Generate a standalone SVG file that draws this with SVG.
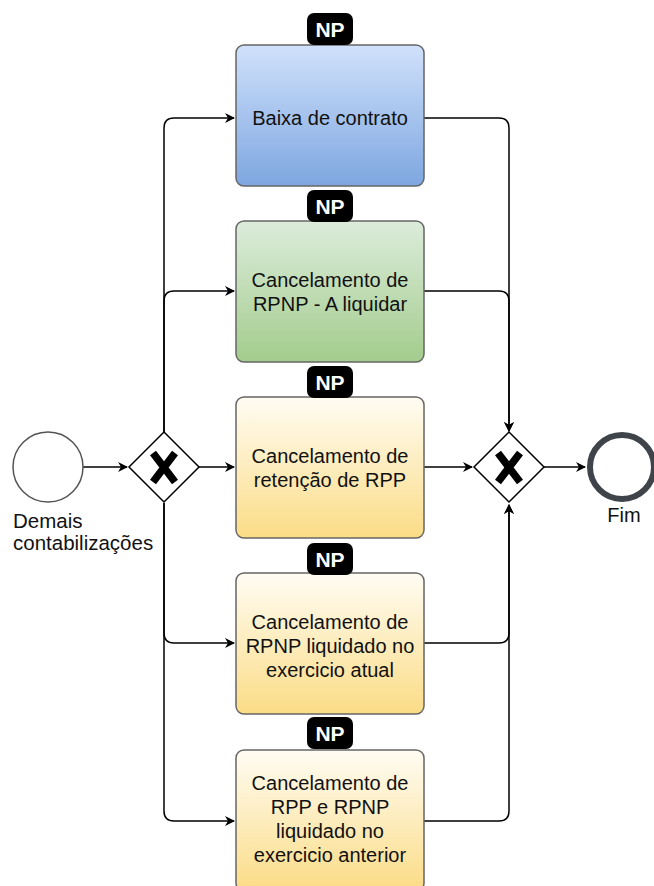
<svg xmlns="http://www.w3.org/2000/svg" width="654" height="886" viewBox="0 0 654 886">
<defs>
<linearGradient id="gBlue" x1="0" y1="0" x2="0" y2="1"><stop offset="0" stop-color="#d0e1fb"/><stop offset="1" stop-color="#7ea6e0"/></linearGradient>
<linearGradient id="gGreen" x1="0" y1="0" x2="0" y2="1"><stop offset="0" stop-color="#dcecdb"/><stop offset="1" stop-color="#a3cc8d"/></linearGradient>
<linearGradient id="gYellow" x1="0" y1="0" x2="0" y2="1"><stop offset="0" stop-color="#fffcf3"/><stop offset="1" stop-color="#fbdc86"/></linearGradient>
<marker id="arr" viewBox="0 0 10 10" refX="9" refY="5" markerWidth="10" markerHeight="10" markerUnits="userSpaceOnUse" orient="auto">
<path d="M0,0 L10,5 L0,10 L3,5 Z" fill="#000"/>
</marker>
</defs>
<style>
text{font-family:"Liberation Sans",Arial,sans-serif;fill:#111}
.lbl{font-size:20px;text-anchor:middle}
.ev{font-size:20.5px}
.box{stroke:#666;stroke-width:1.5}
.np rect{fill:#000}
.np text{fill:#fff;font-weight:bold;font-size:21px;text-anchor:middle}
.edge{fill:none;stroke:#000;stroke-width:1.5}
.gw{fill:#fff;stroke:#000;stroke-width:1.5}
.x{stroke:#000;stroke-width:7.5;stroke-linecap:butt}
</style>
<g id="connectors">
<path class="edge" d="M83,467 L127,467" marker-end="url(#arr)"/>
<path class="edge" d="M164,433 L164,128 Q164,118 174,118 L234,118" marker-end="url(#arr)"/>
<path class="edge" d="M164,433 L164,301 Q164,291 174,291 L234,291" marker-end="url(#arr)"/>
<path class="edge" d="M199,467 L234,467" marker-end="url(#arr)"/>
<path class="edge" d="M164,503 L164,633 Q164,643 174,643 L234,643" marker-end="url(#arr)"/>
<path class="edge" d="M164,503 L164,811 Q164,821 174,821 L234,821" marker-end="url(#arr)"/>
<path class="edge" d="M424,118 L499,118 Q509,118 509,128 L509,431" marker-end="url(#arr)"/>
<path class="edge" d="M424,291 L499,291 Q509,291 509,301 L509,431" marker-end="url(#arr)"/>
<path class="edge" d="M424,467 L472,467" marker-end="url(#arr)"/>
<path class="edge" d="M424,643 L499,643 Q509,643 509,633 L509,505" marker-end="url(#arr)"/>
<path class="edge" d="M424,821 L499,821 Q509,821 509,811 L509,505" marker-end="url(#arr)"/>
<path class="edge" d="M544,467 L585,467" marker-end="url(#arr)"/>
</g>
<g id="start">
<circle cx="48" cy="467" r="35" fill="#fff" stroke="#555" stroke-width="1.5"/>
<text class="ev" x="13" y="528">Demais</text>
<text class="ev" x="13" y="550">contabilizações</text>
</g>
<g id="gw1">
<path class="gw" d="M164,432 L199,467 L164,502 L129,467 Z"/>
<path class="x" d="M153,453 L175,482 M175,453 L153,482"/>
</g>
<g id="gw2">
<path class="gw" d="M509,432 L544,467 L509,502 L474,467 Z"/>
<path class="x" d="M498,453 L520,482 M520,453 L498,482"/>
</g>
<g id="end">
<circle cx="622" cy="467" r="32" fill="#fff" stroke="#3f444a" stroke-width="6"/>
<text x="624" y="522" style="font-size:20px;text-anchor:middle">Fim</text>
</g>
<g id="task1">
<rect class="box" x="236" y="45" width="188" height="141" rx="8" fill="url(#gBlue)"/>
<text class="lbl" x="330" y="125">Baixa de contrato</text>
</g>
<g id="np1" class="np"><rect x="307" y="13" width="46" height="32" rx="7"/><text x="330" y="37">NP</text></g>
<g id="task2">
<rect class="box" x="236" y="221" width="188" height="141" rx="8" fill="url(#gGreen)"/>
<text class="lbl" x="330" y="287">Cancelamento de</text>
<text class="lbl" x="330" y="311">RPNP - A liquidar</text>
</g>
<g id="np2" class="np"><rect x="307" y="190" width="46" height="32" rx="7"/><text x="330" y="214">NP</text></g>
<g id="task3">
<rect class="box" x="236" y="397" width="188" height="141" rx="8" fill="url(#gYellow)"/>
<text class="lbl" x="330" y="463">Cancelamento de</text>
<text class="lbl" x="330" y="487">retenção de RPP</text>
</g>
<g id="np3" class="np"><rect x="307" y="366" width="46" height="32" rx="7"/><text x="330" y="390">NP</text></g>
<g id="task4">
<rect class="box" x="236" y="573" width="188" height="141" rx="8" fill="url(#gYellow)"/>
<text class="lbl" x="330" y="629">Cancelamento de</text>
<text class="lbl" x="330" y="653">RPNP liquidado no</text>
<text class="lbl" x="330" y="677">exercicio atual</text>
</g>
<g id="np4" class="np"><rect x="307" y="543" width="46" height="32" rx="7"/><text x="330" y="567">NP</text></g>
<g id="task5">
<rect class="box" x="236" y="750" width="188" height="141" rx="8" fill="url(#gYellow)"/>
<text class="lbl" x="330" y="790">Cancelamento de</text>
<text class="lbl" x="330" y="814">RPP e RPNP</text>
<text class="lbl" x="330" y="838">liquidado no</text>
<text class="lbl" x="330" y="862">exercicio anterior</text>
</g>
<g id="np5" class="np"><rect x="307" y="717" width="46" height="32" rx="7"/><text x="330" y="741">NP</text></g>
</svg>
